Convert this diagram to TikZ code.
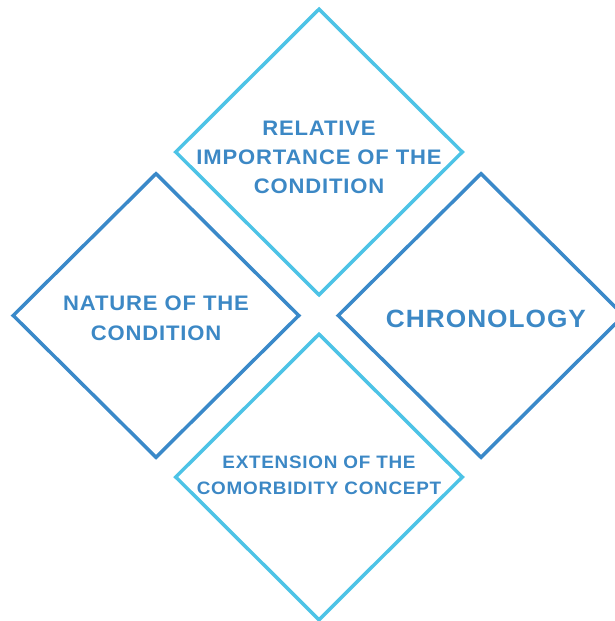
\documentclass[tikz,border=0pt]{standalone}
\usepackage{fontspec}
\newfontfamily\diafont{Liberation Sans}[LetterSpace=4, FakeStretch=1.05]
\usetikzlibrary{shapes.geometric}
\definecolor{lightblue}{HTML}{4DC3E6}
\definecolor{darkblue}{HTML}{3A89C9}
\definecolor{textblue}{HTML}{3C88C5}
\begin{document}
\begin{tikzpicture}[
  x=1pt, y=-1pt,
  lightbox/.style={draw=lightblue, diamond, line width=3.5pt, minimum width=288pt, minimum height=287pt, inner sep=0pt},
  darkbox/.style={draw=darkblue, diamond, line width=3.5pt, minimum width=287pt, minimum height=285pt, inner sep=0pt},
  boxtext/.style={text=textblue, align=center, inner sep=0pt}
  ]
  \useasboundingbox (0,0) rectangle (614,621);

  % Diamonds
  \node (importance) [lightbox] at (319,152) {};
  \node (nature) [darkbox] at (156,315.5) {};
  \node (chronology) [darkbox] at (481,315.5) {};
  \node (extension) [lightbox] at (319,477) {};

  % Labels
  \node (importancetext) [boxtext, font={\diafont\bfseries\fontsize{21pt}{29pt}\selectfont}]
    at ([yshift=-5.5pt]importance.center) {RELATIVE\\IMPORTANCE OF THE\\CONDITION};
  \node (naturetext) [boxtext, font={\diafont\bfseries\fontsize{21pt}{30pt}\selectfont}]
    at ([yshift=-2.5pt]nature.center) {NATURE OF THE\\CONDITION};
  \node (chronologytext) [boxtext, font={\diafont\bfseries\fontsize{25pt}{30pt}\selectfont}]
    at ([xshift=5pt, yshift=-3.5pt]chronology.center) {CHRONOLOGY};
  \node (extensiontext) [boxtext, font={\diafont\bfseries\fontsize{18pt}{26pt}\selectfont}]
    at ([yshift=1.5pt]extension.center) {EXTENSION OF THE\\COMORBIDITY CONCEPT};

\end{tikzpicture}
\end{document}
